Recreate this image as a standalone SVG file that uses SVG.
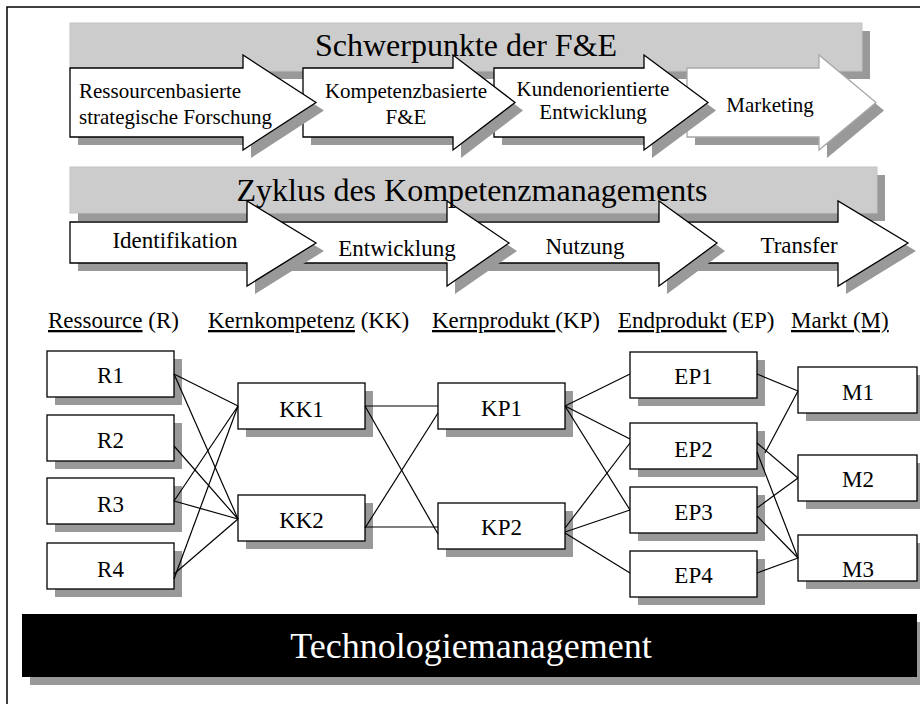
<svg xmlns="http://www.w3.org/2000/svg" width="920" height="704" viewBox="0 0 920 704">
<style>
  text { font-family: "Liberation Serif", "Times New Roman", serif; fill: #000; }
  .shadow { fill: #999999; }
  .banner { fill: #cccccc; stroke: #c4c4c4; stroke-width: 1; }
  .arrow { fill: #fff; stroke: #000; stroke-width: 1.3; stroke-linejoin: miter; }
  .arrow.light { stroke: #a8a8a8; }
  .box { fill: #fff; stroke: #000; stroke-width: 1.3; }
  .title { font-size: 32px; text-anchor: middle; }
  .s1 { font-size: 21px; }
  .s1c { font-size: 21px; text-anchor: middle; }
  .s2 { font-size: 23px; text-anchor: middle; }
  .head { font-size: 23px; }
  .ul { text-decoration: underline; }
  .lbl { font-size: 23px; text-anchor: middle; }
  .bar-text { font-size: 36px; text-anchor: middle; fill: #fff; }
  #connectors line { stroke: #000; stroke-width: 1.2; }
</style>
<defs>
  <!-- block arrows of the upper row -->
  <polygon id="a1" points="70,68 243,68 243,55 316,102.5 243,150 243,137 70,137"/>
  <polygon id="a2" points="303,68 453,68 453,55 515,102.5 453,150 453,137 303,137"/>
  <polygon id="a3" points="494,68 644,68 644,55 708,102.5 644,150 644,137 494,137"/>
  <polygon id="a4" points="687,68 819,68 819,55 876,102.5 819,150 819,137 687,137"/>
  <!-- block arrows of the cycle row -->
  <polygon id="b1" points="70,222 247,222 247,201 316,243 247,286 247,263 70,263"/>
  <polygon id="b2" points="280,222 447,222 447,201 509,243 447,286 447,263 280,263"/>
  <polygon id="b3" points="470,222 659,222 659,201 717,243 659,286 659,263 470,263"/>
  <polygon id="b4" points="680,222 838,222 838,201 908,243 838,286 838,263 680,263"/>
</defs>

<rect width="920" height="704" fill="#fff"/>
<!-- page frame -->
<path d="M7,704 V7 H920" fill="none" stroke="#000" stroke-width="1.5"/>

<!-- Schwerpunkte der F&E -->
<g id="focus">
  <rect class="shadow" x="78" y="31" width="792" height="48"/>
  <rect class="banner" x="70" y="23" width="792" height="48"/>
  <g id="focus-marketing">
    <use href="#a4" class="shadow" transform="translate(8,8)"/>
    <use href="#a4" class="arrow light"/>
  </g>
  <g id="focus-kunden">
    <use href="#a3" class="shadow" transform="translate(8,8)"/>
    <use href="#a3" class="arrow"/>
  </g>
  <g id="focus-kompetenz">
    <use href="#a2" class="shadow" transform="translate(8,8)"/>
    <use href="#a2" class="arrow"/>
  </g>
  <g id="focus-ressourcen">
    <use href="#a1" class="shadow" transform="translate(8,8)"/>
    <use href="#a1" class="arrow"/>
  </g>
  <text class="s1" x="79" y="98">Ressourcenbasierte</text>
  <text class="s1" x="79" y="124">strategische Forschung</text>
  <text class="s1c" x="406" y="98">Kompetenzbasierte</text>
  <text class="s1c" x="406" y="124">F&amp;E</text>
  <text class="s1c" x="593" y="96">Kundenorientierte</text>
  <text class="s1c" x="593" y="119">Entwicklung</text>
  <text class="s1c" x="770" y="112">Marketing</text>
  <text class="title" x="466" y="56">Schwerpunkte der F&amp;E</text>
</g>

<!-- Zyklus des Kompetenzmanagements -->
<g id="cycle">
  <rect class="shadow" x="78" y="175" width="807" height="46"/>
  <rect class="banner" x="70" y="167" width="807" height="46"/>
  <g id="cycle-transfer">
    <use href="#b4" class="shadow" transform="translate(8,8)"/>
    <use href="#b4" class="arrow"/>
  </g>
  <g id="cycle-nutzung">
    <use href="#b3" class="shadow" transform="translate(8,8)"/>
    <use href="#b3" class="arrow"/>
  </g>
  <g id="cycle-entwicklung">
    <use href="#b2" class="shadow" transform="translate(8,8)"/>
    <use href="#b2" class="arrow"/>
  </g>
  <g id="cycle-identifikation">
    <use href="#b1" class="shadow" transform="translate(8,8)"/>
    <use href="#b1" class="arrow"/>
  </g>
  <text class="s2" x="175" y="248">Identifikation</text>
  <text class="s2" x="397" y="256">Entwicklung</text>
  <text class="s2" x="585" y="254">Nutzung</text>
  <text class="s2" x="799" y="253">Transfer</text>
  <text class="title" x="472" y="201">Zyklus des Kompetenzmanagements</text>
</g>

<!-- column headings -->
<g id="headings">
  <text class="head" x="48" y="328"><tspan class="ul">Ressource</tspan> (R)</text>
  <text class="head" x="208" y="328"><tspan class="ul">Kernkompetenz</tspan> (KK)</text>
  <text class="head" x="432" y="328" xml:space="preserve"><tspan class="ul">Kernprodukt </tspan>(KP)</text>
  <text class="head" x="618" y="328"><tspan class="ul">Endprodukt</tspan> (EP)</text>
  <text class="head ul" x="791" y="328">Markt (M)</text>
</g>

<!-- nodes -->
<g id="R1"><rect class="shadow" x="55" y="359" width="127" height="46"/><rect class="box" x="47" y="351" width="127" height="46"/><text class="lbl" x="110.5" y="383">R1</text></g>
<g id="R2"><rect class="shadow" x="55" y="423" width="127" height="46"/><rect class="box" x="47" y="415" width="127" height="46"/><text class="lbl" x="110.5" y="448">R2</text></g>
<g id="R3"><rect class="shadow" x="55" y="486" width="127" height="46"/><rect class="box" x="47" y="478" width="127" height="46"/><text class="lbl" x="110.5" y="512">R3</text></g>
<g id="R4"><rect class="shadow" x="55" y="551" width="127" height="46"/><rect class="box" x="47" y="543" width="127" height="46"/><text class="lbl" x="110.5" y="577">R4</text></g>

<g id="KK1"><rect class="shadow" x="246" y="391" width="127" height="46"/><rect class="box" x="238" y="383" width="127" height="46"/><text class="lbl" x="301.5" y="417">KK1</text></g>
<g id="KK2"><rect class="shadow" x="246" y="503" width="127" height="46"/><rect class="box" x="238" y="495" width="127" height="46"/><text class="lbl" x="301.5" y="528">KK2</text></g>

<g id="KP1"><rect class="shadow" x="446" y="391" width="127" height="46"/><rect class="box" x="438" y="383" width="127" height="46"/><text class="lbl" x="501.5" y="416">KP1</text></g>
<g id="KP2"><rect class="shadow" x="446" y="511" width="127" height="46"/><rect class="box" x="438" y="503" width="127" height="46"/><text class="lbl" x="501.5" y="535">KP2</text></g>

<g id="EP1"><rect class="shadow" x="638" y="360" width="127" height="46"/><rect class="box" x="630" y="352" width="127" height="46"/><text class="lbl" x="693.5" y="384">EP1</text></g>
<g id="EP2"><rect class="shadow" x="638" y="431" width="127" height="46"/><rect class="box" x="630" y="423" width="127" height="46"/><text class="lbl" x="693.5" y="457">EP2</text></g>
<g id="EP3"><rect class="shadow" x="638" y="495" width="127" height="46"/><rect class="box" x="630" y="487" width="127" height="46"/><text class="lbl" x="693.5" y="520">EP3</text></g>
<g id="EP4"><rect class="shadow" x="638" y="559" width="127" height="46"/><rect class="box" x="630" y="551" width="127" height="46"/><text class="lbl" x="693.5" y="583">EP4</text></g>

<g id="M1"><rect class="shadow" x="806" y="375" width="119" height="46"/><rect class="box" x="798" y="367" width="119" height="46"/><text class="lbl" x="858" y="400">M1</text></g>
<g id="M2"><rect class="shadow" x="806" y="463" width="119" height="46"/><rect class="box" x="798" y="455" width="119" height="46"/><text class="lbl" x="858" y="487">M2</text></g>
<g id="M3"><rect class="shadow" x="806" y="543" width="119" height="46"/><rect class="box" x="798" y="535" width="119" height="46"/><text class="lbl" x="858" y="577">M3</text></g>

<!-- connectors -->
<g id="connectors">
  <line x1="174" y1="374" x2="238" y2="406"/>
  <line x1="174" y1="374" x2="238" y2="519"/>
  <line x1="174" y1="446" x2="238" y2="519"/>
  <line x1="174" y1="501" x2="238" y2="406"/>
  <line x1="174" y1="501" x2="238" y2="519"/>
  <line x1="174" y1="579" x2="238" y2="406"/>
  <line x1="174" y1="574" x2="238" y2="519"/>

  <line x1="365" y1="406" x2="438" y2="406"/>
  <line x1="365" y1="406" x2="438" y2="534"/>
  <line x1="365" y1="528" x2="438" y2="413"/>
  <line x1="365" y1="527" x2="438" y2="527"/>

  <line x1="565" y1="406" x2="630" y2="374"/>
  <line x1="565" y1="406" x2="630" y2="439"/>
  <line x1="565" y1="406" x2="630" y2="510"/>
  <line x1="565" y1="528" x2="630" y2="443"/>
  <line x1="565" y1="532" x2="630" y2="510"/>
  <line x1="565" y1="533" x2="630" y2="573"/>

  <line x1="757" y1="374" x2="798" y2="391"/>
  <line x1="765" y1="453" x2="798" y2="391"/>
  <line x1="757" y1="443" x2="798" y2="478"/>
  <line x1="757" y1="452" x2="798" y2="558"/>
  <line x1="757" y1="508" x2="798" y2="478"/>
  <line x1="757" y1="516" x2="798" y2="558"/>
  <line x1="757" y1="573" x2="798" y2="558"/>
</g>

<!-- Technologiemanagement -->
<g id="technology">
  <rect class="shadow" x="30" y="622" width="895" height="63"/>
  <rect x="22" y="614" width="895" height="63" fill="#000"/>
  <text class="bar-text" x="471" y="658">Technologiemanagement</text>
</g>
</svg>
